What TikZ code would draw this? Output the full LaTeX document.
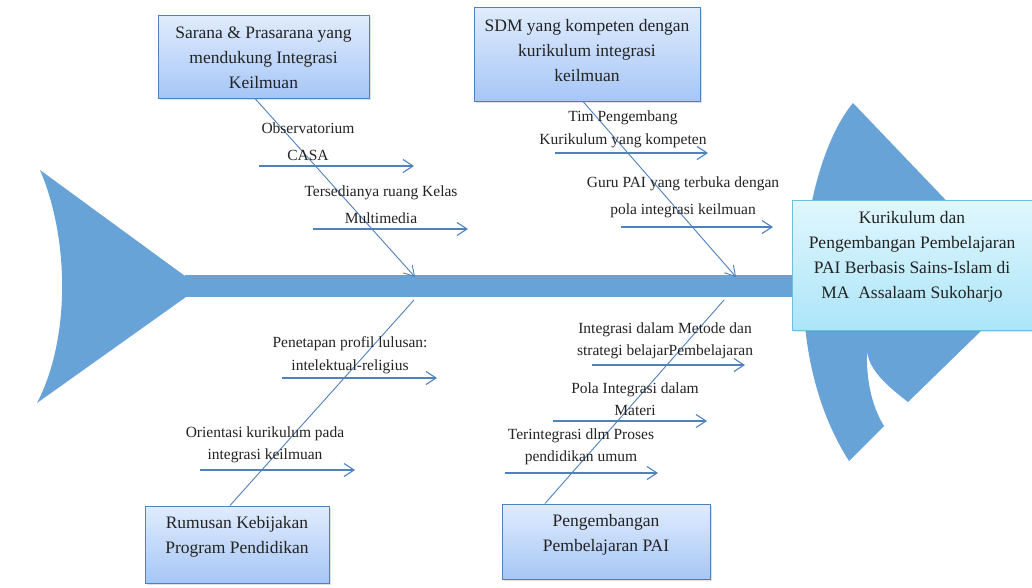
\documentclass[tikz,border=0pt]{standalone}
\usepackage{fontspec}
\setmainfont{Liberation Serif}
\usetikzlibrary{arrows.meta,shadows}
\definecolor{fish}{RGB}{104,163,216}
\definecolor{bline}{RGB}{79,129,189}
\definecolor{btop}{RGB}{224,236,253}
\definecolor{bbot}{RGB}{166,198,246}
\definecolor{etop}{RGB}{224,247,253}
\definecolor{ebot}{RGB}{172,229,249}
\definecolor{eline}{RGB}{110,190,225}
\definecolor{txt}{RGB}{35,35,35}
\begin{document}
\begin{tikzpicture}[x=1pt,y=-1pt,
  causebox/.style={draw=bline, line width=1pt, top color=btop, bottom color=bbot,
    drop shadow={opacity=0.25,shadow xshift=2pt,shadow yshift=-2pt}, inner sep=0pt},
  effectbox/.style={draw=eline, line width=1pt, top color=etop, bottom color=ebot,
    drop shadow={opacity=0.2,shadow xshift=2pt,shadow yshift=-2pt}, inner sep=0pt},
  boxtxt/.style={align=center, font=\fontsize{17.5}{25}\selectfont, text=txt, inner sep=0pt},
  lbl/.style={align=center, font=\fontsize{15.5}{27}\selectfont, text=txt, inner sep=0pt},
  lbls/.style={align=center, font=\fontsize{15.5}{22.5}\selectfont, text=txt, inner sep=0pt},
  bonearrow/.style={draw=bline, line width=0.9pt, -{Straight Barb[length=10pt,width=12pt]}},
  boneplain/.style={draw=bline, line width=0.9pt},
  subarrow/.style={draw=bline, line width=1.1pt, -{Straight Barb[length=10pt,width=13pt]}}
]
\useasboundingbox (0,0) rectangle (1032,587);
\fill[white] (0,0) rectangle (1032,587);

% fish tail
\fill[fish] (40,170) -- (200,287) -- (37,403) .. controls (70,340) and (70,240) .. (40,170) -- cycle;
% spine
\fill[fish] (185,275) rectangle (810,297);
% fish head
\fill[fish] (853,103) -- (960,215) -- (990,320) -- (982,330) -- (908,402)
  .. controls (890,388) and (870,372) .. (867,352)
  .. controls (866,385) and (874,410) .. (884,426) -- (849,461)
  .. controls (772,340) and (805,160) .. (853,103) -- cycle;

% junction points on the spine
\coordinate (j1) at (415,277);
\coordinate (j2) at (736,277);
\coordinate (j3) at (414,300);
\coordinate (j4) at (724,300);

% boxes (positions)
\node[causebox, minimum width=211pt, minimum height=83pt] (b1) at (263.5,56.5) {};
\node[causebox, minimum width=226pt, minimum height=94pt] (b2) at (587,54) {};
\node[causebox, minimum width=184pt, minimum height=77pt] (b3) at (237,544.5) {};
\node[causebox, minimum width=208pt, minimum height=75pt] (b4) at (606,541.5) {};

% bones
\draw[bonearrow] ([xshift=-8.5pt]b1.south) -- (j1);
\draw[bonearrow] ([xshift=-4pt]b2.south) -- (j2);
\draw[boneplain] ([xshift=-7pt]b3.north) -- (j3);
\draw[boneplain] ([xshift=-61pt]b4.north) -- (j4);

% box texts
\node[boxtxt] (t1) at (263.5,58) {Sarana \& Prasarana yang\\mendukung Integrasi\\Keilmuan};
\node[boxtxt] (t2) at (587,51) {SDM yang kompeten dengan\\kurikulum integrasi\\keilmuan};
\node[boxtxt] (t3) at (237,537) {Rumusan Kebijakan\\Program Pendidikan};
\node[boxtxt] (t4) at (606,535) {Pengembangan\\Pembelajaran PAI};

% effect box
\node[effectbox, minimum width=240pt, minimum height=130pt] (eff) at (912,265) {};
\node[boxtxt] (efft) at (912,257) {Kurikulum dan\\Pengembangan Pembelajaran\\PAI Berbasis Sains-Islam di\\MA\ \ Assalaam Sukoharjo};

% sub-cause arrows
\coordinate (o1s) at (259,166); \coordinate (o1e) at (414,166);
\coordinate (o2s) at (313,229); \coordinate (o2e) at (468,229);
\coordinate (o3s) at (555,153); \coordinate (o3e) at (708,153);
\coordinate (o4s) at (621,227); \coordinate (o4e) at (773,227);
\coordinate (o5s) at (282,378); \coordinate (o5e) at (437,378);
\coordinate (o6s) at (200,470); \coordinate (o6e) at (355,470);
\coordinate (o7s) at (592,365); \coordinate (o7e) at (745,365);
\coordinate (o8s) at (553,421); \coordinate (o8e) at (707,421);
\coordinate (o9s) at (505,473); \coordinate (o9e) at (658,473);
\foreach \i in {1,...,9} {\draw[subarrow] (o\i s) -- (o\i e);}

% sub-cause labels
\node[lbl] (l1) at (308,141.5) {Observatorium\\CASA};
\node[lbl] (l2) at (381,204.5) {Tersedianya ruang Kelas\\Multimedia};
\node[lbls, font=\fontsize{15.5}{23}\selectfont] (l3) at (623,129.5) {Tim Pengembang\\Kurikulum yang kompeten};
\node[lbl] (l4) at (683,197.5) {Guru PAI yang terbuka dengan\\pola integrasi keilmuan};
\node[lbls] (l5) at (350,355) {Penetapan profil lulusan:\\intelektual-religius};
\node[lbls] (l6) at (265,445) {Orientasi kurikulum pada\\integrasi keilmuan};
\node[lbls] (l7) at (665,341) {Integrasi dalam Metode dan\\strategi belajarPembelajaran};
\node[lbls] (l8) at (635,399) {Pola Integrasi dalam\\Materi};
\node[lbls] (l9) at (581,447) {Terintegrasi dlm Proses\\pendidikan umum};
\end{tikzpicture}
\end{document}
